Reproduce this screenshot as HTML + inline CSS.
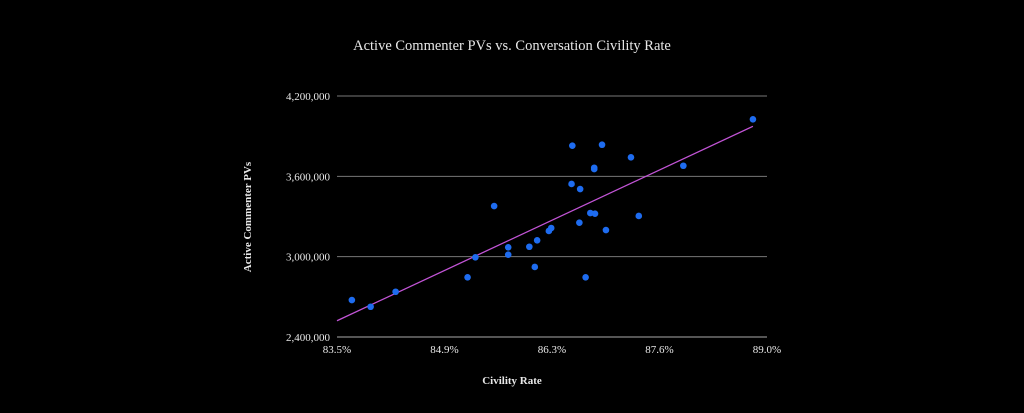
<!DOCTYPE html>
<html><head><meta charset="utf-8"><style>
html,body{margin:0;padding:0;background:#000;}
svg{display:block;}
text{font-family:"Liberation Serif",serif;fill:#e8e8e8;}
</style></head><body>
<svg id="chart" width="1024" height="413" viewBox="0 0 1024 413" xmlns="http://www.w3.org/2000/svg">
<rect width="1024" height="413" fill="#000"/>
<text x="512" y="50" text-anchor="middle" font-size="14.5">Active Commenter PVs vs. Conversation Civility Rate</text>
<text x="512" y="384" text-anchor="middle" font-size="11" font-weight="bold">Civility Rate</text>
<text transform="translate(251,217) rotate(-90)" text-anchor="middle" font-size="11" font-weight="bold">Active Commenter PVs</text>
<g id="grid"></g><g id="xt"></g><g id="trend"></g><g id="pts"></g>
</svg>
<script>
const xTicks=[83.5,84.875,86.25,87.625,89.0];
const xTickLabels=["83.5%","84.9%","86.3%","87.6%","89.0%"];
const yTicks=[2400000,3000000,3600000,4200000];
const yTickLabels=["2,400,000","3,000,000","3,600,000","4,200,000"];
const civility=[83.69,83.93,84.25,85.17,85.27,85.51,85.69,85.69,85.96,86.03,86.06,86.21,86.24,86.51,86.50,86.61,86.60,86.68,86.74,86.80,86.79,86.79,86.89,86.94,87.26,87.36,87.93,88.82];
const pvs=[2676000,2626000,2738000,2846000,2995000,3378000,3070000,3015000,3074000,2923000,3122000,3192000,3214000,3829000,3543000,3505000,3254000,2846000,3326000,3321000,3664000,3654000,3836000,3199000,3742000,3304000,3679000,4026000];
const NS="http://www.w3.org/2000/svg";
const X0=337,X1=767,Y0=337,Y1=96;
const xs=v=>X0+(v-83.5)/(89.0-83.5)*(X1-X0);
const ys=v=>Y0-(v-2400000)/(4200000-2400000)*(Y0-Y1);
function mk(tag,attrs,parent){const e=document.createElementNS(NS,tag);for(const k in attrs)e.setAttribute(k,attrs[k]);parent.appendChild(e);return e;}
const grid=document.getElementById('grid');
yTicks.forEach((t,i)=>{
 const l=mk('line',{x1:X0,x2:X1,y1:ys(t),y2:ys(t),stroke:i==0?'#aaa':'#777','stroke-width':1},grid);
 
 
 const tx=mk('text',{x:330,y:ys(t)+4,'text-anchor':'end','font-size':11},grid);
 tx.textContent=yTickLabels[i];
 
 
});
const xt=document.getElementById('xt');
xTicks.forEach((t,i)=>{
 const tx=mk('text',{x:xs(t),y:353,'text-anchor':'middle','font-size':11},xt);
 tx.textContent=xTickLabels[i];
 
 
});
const n=civility.length;let mx=0,my=0;for(let i=0;i<n;i++){mx+=civility[i];my+=pvs[i];}mx/=n;my/=n;
let sxy=0,sxx=0;for(let i=0;i<n;i++){sxy+=(civility[i]-mx)*(pvs[i]-my);sxx+=(civility[i]-mx)**2;}
const b=sxy/sxx,a=my-b*mx;
const xmin=83.5,xmax=Math.max(...civility);
const tl=mk('line',{x1:xs(xmin),y1:ys(a+b*xmin),x2:xs(xmax),y2:ys(a+b*xmax),stroke:'#c254d6','stroke-width':1.3},document.getElementById('trend'));


const pts=document.getElementById('pts');
for(let i=0;i<n;i++){
 const c=mk('circle',{cx:xs(civility[i]),cy:ys(pvs[i]),r:3.3,fill:'#1e6cf0'},pts);
 
 
}
</script>
</body></html>
